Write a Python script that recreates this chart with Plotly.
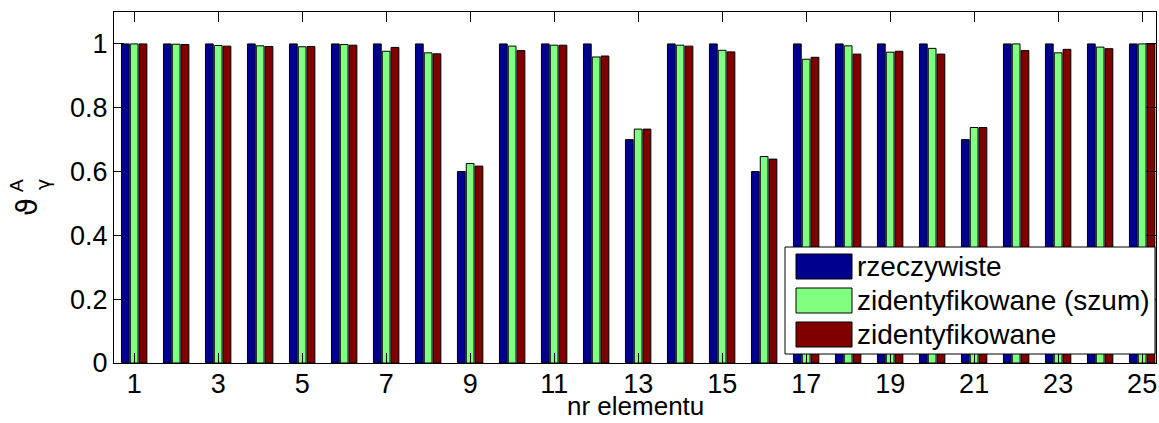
import plotly.graph_objects as go

elements = list(range(1, 26))
rzeczywiste = [1.0, 1.0, 1.0, 1.0, 1.0, 1.0, 1.0, 1.0, 0.6, 1.0, 1.0, 1.0, 0.7,
               1.0, 1.0, 0.6, 1.0, 1.0, 1.0, 1.0, 0.7, 1.0, 1.0, 1.0, 1.0]
zident_szum = [1.0, 0.999, 0.995, 0.994, 0.991, 0.998, 0.977, 0.972, 0.625, 0.993,
               0.996, 0.959, 0.733, 0.996, 0.980, 0.647, 0.952, 0.994, 0.974, 0.986,
               0.738, 1.0, 0.972, 0.990, 1.0]
zident = [1.0, 0.998, 0.993, 0.992, 0.992, 0.996, 0.989, 0.969, 0.617, 0.979,
          0.996, 0.962, 0.733, 0.993, 0.975, 0.639, 0.958, 0.968, 0.977, 0.968,
          0.738, 0.979, 0.983, 0.985, 1.0]

series_names = ["rzeczywiste", "zidentyfikowane (szum)", "zidentyfikowane"]
series_values = [rzeczywiste, zident_szum, zident]
colors = ["#00008F", "#80FF80", "#800000"]

x_ticks = list(range(1, 26, 2))
y_ticks = [0, 0.2, 0.4, 0.6, 0.8, 1.0]
y_ticklabels = ["0", "0.2", "0.4", "0.6", "0.8", "1"]

W, H = 1159, 423
ML, MR, MT, MB = 114, 3, 12, 60
PW, PH = W - ML - MR, H - MT - MB
FONT = "Liberation Sans, Arial, sans-serif"
GREEK = "DejaVu Sans, sans-serif"

def px(xp):
    return (xp - ML) / PW

def py(yp):
    return (H - MB - yp) / PH

fig = go.Figure()
for name, vals, col in zip(series_names, series_values, colors):
    fig.add_trace(go.Bar(x=elements, y=vals, name=name,
                         marker=dict(color=col, line=dict(color="black", width=1)),
                         showlegend=False))

fig.update_layout(
    width=W, height=H,
    margin=dict(l=ML, r=MR, t=MT, b=MB),
    paper_bgcolor="white", plot_bgcolor="white",
    barmode="group", bargap=0.37, bargroupgap=0.12,
    font=dict(family=FONT, size=27, color="black"),
)
fig.update_xaxes(range=[0.52, 25.33], tickvals=x_ticks, ticktext=[str(v) for v in x_ticks],
                 ticks="inside", ticklen=10, tickcolor="black", tickwidth=1,
                 showline=True, linecolor="black", linewidth=1, mirror="allticks",
                 showgrid=False, zeroline=False, tickfont=dict(size=27),
                 ticklabelstandoff=-3)
fig.update_yaxes(range=[0, 1.1], tickvals=y_ticks, ticktext=y_ticklabels,
                 ticks="inside", ticklen=10, tickcolor="black", tickwidth=1,
                 showline=True, linecolor="black", linewidth=1, mirror="allticks",
                 showgrid=False, zeroline=False, tickfont=dict(size=27))

ann = []
# y-axis label: theta with super A and sub gamma (rotated)
ann.append(dict(text="ϑ", xref="paper", yref="paper", x=px(27), y=py(207),
                showarrow=False, textangle=-90, font=dict(size=29, family=GREEK),
                xanchor="center", yanchor="middle"))
ann.append(dict(text="A", xref="paper", yref="paper", x=px(16), y=py(186),
                showarrow=False, textangle=-90, font=dict(size=19, family=FONT),
                xanchor="center", yanchor="middle"))
ann.append(dict(text="γ", xref="paper", yref="paper", x=px(43), y=py(185),
                showarrow=False, textangle=-90, font=dict(size=19, family=GREEK),
                xanchor="center", yanchor="middle"))
# x-axis label
ann.append(dict(text="nr elementu", xref="paper", yref="paper", x=0.5, y=py(423),
                showarrow=False, font=dict(size=26, family=FONT),
                xanchor="center", yanchor="bottom"))

shapes = []
# custom legend
lx0, lx1, ly0, ly1 = 785, 1155, 247, 354
shapes.append(dict(type="rect", xref="paper", yref="paper",
                   x0=px(lx0), x1=px(lx1), y0=py(ly1), y1=py(ly0),
                   fillcolor="white", line=dict(color="black", width=1), layer="above"))
row_top = [254, 288, 322]
for i, (name, col) in enumerate(zip(series_names, colors)):
    t = row_top[i]
    shapes.append(dict(type="rect", xref="paper", yref="paper",
                       x0=px(796), x1=px(852), y0=py(t + 25), y1=py(t),
                       fillcolor=col, line=dict(color="black", width=1), layer="above"))
    ann.append(dict(text=name, xref="paper", yref="paper", x=px(855), y=py(t + 12.5),
                    showarrow=False, font=dict(size=28, family=FONT),
                    xanchor="left", yanchor="middle"))

fig.update_layout(annotations=ann, shapes=shapes)
fig.write_html("out.html")
